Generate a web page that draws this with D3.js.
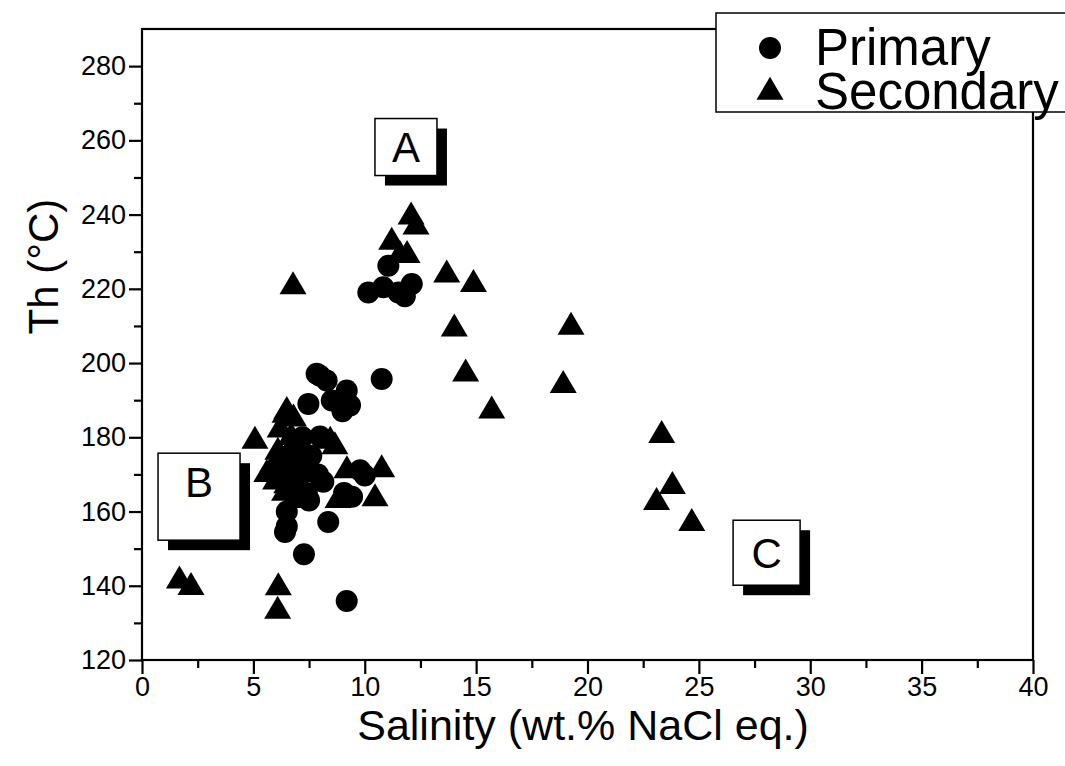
<!DOCTYPE html>
<html>
<head>
<meta charset="utf-8">
<script src="https://cdn.jsdelivr.net/npm/d3@7/dist/d3.min.js"></script>
<style>
  body { margin: 0; background: #fff; }
  svg { display: block; }
  text { font-family: "Liberation Sans", Arial, sans-serif; fill: #000; }
</style>
</head>
<body>
<div id="chart"></div>
<script>
// salinity (wt.% NaCl eq.) and Th (°C)
const primaryX = [7.99, 7.84, 8.29, 10.76, 9.19, 9.34, 8.52, 9.0, 7.47, 7.99, 9.79, 10.0, 8.14, 9.07, 9.43,
  8.36, 7.27, 9.19, 6.42, 6.5, 6.6, 7.0, 7.4, 6.8, 7.6, 7.2, 6.5, 7.5, 7.9,
  11.06, 10.16, 10.83, 11.51, 12.11, 11.8];
const primaryY = [196.6, 197.1, 195.3, 195.7, 192.6, 188.6, 189.9, 187, 189, 180.2, 171.1, 169.7, 168, 165, 164,
  157.2, 148.5, 135.9, 154.5, 156, 166, 169, 165, 171, 175, 180, 160, 163, 170,
  226.2, 219, 220.4, 219, 221.3, 218];

const secondaryX = [13.68, 14.88, 14.02, 19.26, 14.53, 18.91, 15.7, 23.33, 23.81, 23.1, 24.68,
  1.68, 2.2, 6.12, 6.09, 10.76, 10.46, 9.2, 8.8, 6.42, 5.07, 8.66, 8.45,
  12.08, 12.3, 11.21, 11.58, 11.9, 6.78,
  6.5, 6.8, 6.2, 6.7, 7.0, 6.1, 6.5, 6.9, 5.9, 6.3, 6.8, 7.3, 6.0, 6.5, 7.0, 6.4, 6.8, 7.2, 7.5, 5.6];
const secondaryY = [223.8, 221.2, 209.2, 209.7, 197.1, 194, 187.1, 180.5, 166.8, 162.5, 156.8,
  141.3, 139.6, 139.5, 133.2, 171.3, 163.5, 171, 163, 186, 179, 177.5, 179,
  239.4, 236.7, 232.6, 229, 229, 220.6,
  187, 185, 182, 180, 178, 176, 175, 174, 172, 171, 170, 172, 168, 167, 167, 165, 163, 176, 170, 170];

const xTicks = [0, 5, 10, 15, 20, 25, 30, 35, 40];
const yTicks = [120, 140, 160, 180, 200, 220, 240, 260, 280];

// labelled boxes: letter and centre in data units
const boxLetters = ['A', 'B', 'C'];
const boxX = [11.85, 2.56, 28.04];
const boxY = [258.2, 164, 148.9];

const legendNames = ['Primary', 'Secondary'];

const width = 1065, height = 766;
const margin = { top: 29, right: 32, bottom: 106, left: 142 };
const graphWidth = width - margin.left - margin.right;
const graphHeight = height - margin.top - margin.bottom;

const svg = d3.select('#chart')
  .append('svg')
  .attr('width', width)
  .attr('height', height);

const graph = svg.append('g')
  .attr('transform', `translate(${margin.left}, ${margin.top})`);

//Scales
const x = d3.scaleLinear().domain([0, 40]).range([0, graphWidth]);
const y = d3.scaleLinear().domain([120, 290]).range([graphHeight, 0]);

//frame
graph.append('rect')
  .attr('width', graphWidth)
  .attr('height', graphHeight)
  .attr('fill', 'none')
  .attr('stroke', '#000')
  .attr('stroke-width', 2.2);

//axes
const xAxis = d3.axisBottom(x).tickValues(xTicks).tickSize(14).tickPadding(3).tickFormat(d3.format('d'));
const xMinor = d3.axisBottom(x).tickValues(d3.range(2.5, 40, 5)).tickSize(8).tickFormat('');
const yAxis = d3.axisLeft(y).tickValues(yTicks).tickSize(13).tickPadding(3).tickFormat(d3.format('d'));
const yMinor = d3.axisLeft(y).tickValues(d3.range(130, 290, 20)).tickSize(8).tickFormat('');

const styleAxis = g => {
  g.select('.domain').remove();
  g.selectAll('line').attr('stroke', '#000').attr('stroke-width', 2.2);
  g.selectAll('text').attr('font-size', 27).attr('font-family', '"Liberation Sans", Arial, sans-serif');
};

graph.append('g').attr('transform', `translate(0, ${graphHeight})`).call(xAxis).call(styleAxis);
graph.append('g').attr('transform', `translate(0, ${graphHeight})`).call(xMinor).call(styleAxis);
graph.append('g').call(yAxis).call(styleAxis);
graph.append('g').call(yMinor).call(styleAxis);

//axis titles
svg.append('text')
  .attr('x', margin.left + x(19.8))
  .attr('y', 740)
  .attr('text-anchor', 'middle')
  .attr('font-size', 43)
  .text('Salinity (wt.% NaCl eq.)');

svg.append('text')
  .attr('transform', `translate(58, ${margin.top + y(226)}) rotate(-90)`)
  .attr('text-anchor', 'middle')
  .attr('font-size', 42)
  .text('Th (°C)');

//markers
const triPath = (w, h) => `M0,${-2 * h / 3}L${w / 2},${h / 3}L${-w / 2},${h / 3}Z`;

const primary = primaryX.map((v, i) => ({ x: v, y: primaryY[i] }));
const secondary = secondaryX.map((v, i) => ({ x: v, y: secondaryY[i] }));

graph.selectAll('path.sec')
  .data(secondary)
  .enter()
  .append('path')
  .attr('class', 'sec')
  .attr('d', triPath(27, 23))
  .attr('transform', d => `translate(${x(d.x)}, ${y(d.y)})`)
  .attr('fill', '#000');

graph.selectAll('circle.pri')
  .data(primary)
  .enter()
  .append('circle')
  .attr('class', 'pri')
  .attr('cx', d => x(d.x))
  .attr('cy', d => y(d.y))
  .attr('r', 11)
  .attr('fill', '#000');

//letter boxes with drop shadow
const boxSize = [[62, 57], [82, 87], [67, 65]];
const letterDy = [15, 0, 15];
boxLetters.forEach((letter, i) => {
  const cx = x(boxX[i]), cy = y(boxY[i]);
  const [bw, bh] = boxSize[i];
  const g = graph.append('g').attr('transform', `translate(${cx - bw / 2}, ${cy - bh / 2})`);
  g.append('rect').attr('x', 10).attr('y', 10).attr('width', bw).attr('height', bh).attr('fill', '#000');
  g.append('rect').attr('width', bw).attr('height', bh).attr('fill', '#fff').attr('stroke', '#000').attr('stroke-width', 1.5);
  g.append('text')
    .attr('x', bw / 2)
    .attr('y', bh / 2 + letterDy[i])
    .attr('text-anchor', 'middle')
    .attr('font-size', 42)
    .text(letter);
});

//legend
const legend = svg.append('g').attr('transform', 'translate(716, 13)');
legend.append('rect')
  .attr('width', 400)
  .attr('height', 99)
  .attr('fill', '#fff')
  .attr('stroke', '#000')
  .attr('stroke-width', 1.5);

legend.append('circle').attr('cx', 54).attr('cy', 35).attr('r', 11).attr('fill', '#000');
legend.append('path').attr('d', triPath(27, 23)).attr('transform', 'translate(54, 79)').attr('fill', '#000');

legend.selectAll('text.leg')
  .data(legendNames)
  .enter()
  .append('text')
  .attr('class', 'leg')
  .attr('x', 99)
  .attr('y', (d, i) => 52 + i * 44)
  .attr('font-size', 51)
  .text(d => d);
</script>
</body>
</html>
